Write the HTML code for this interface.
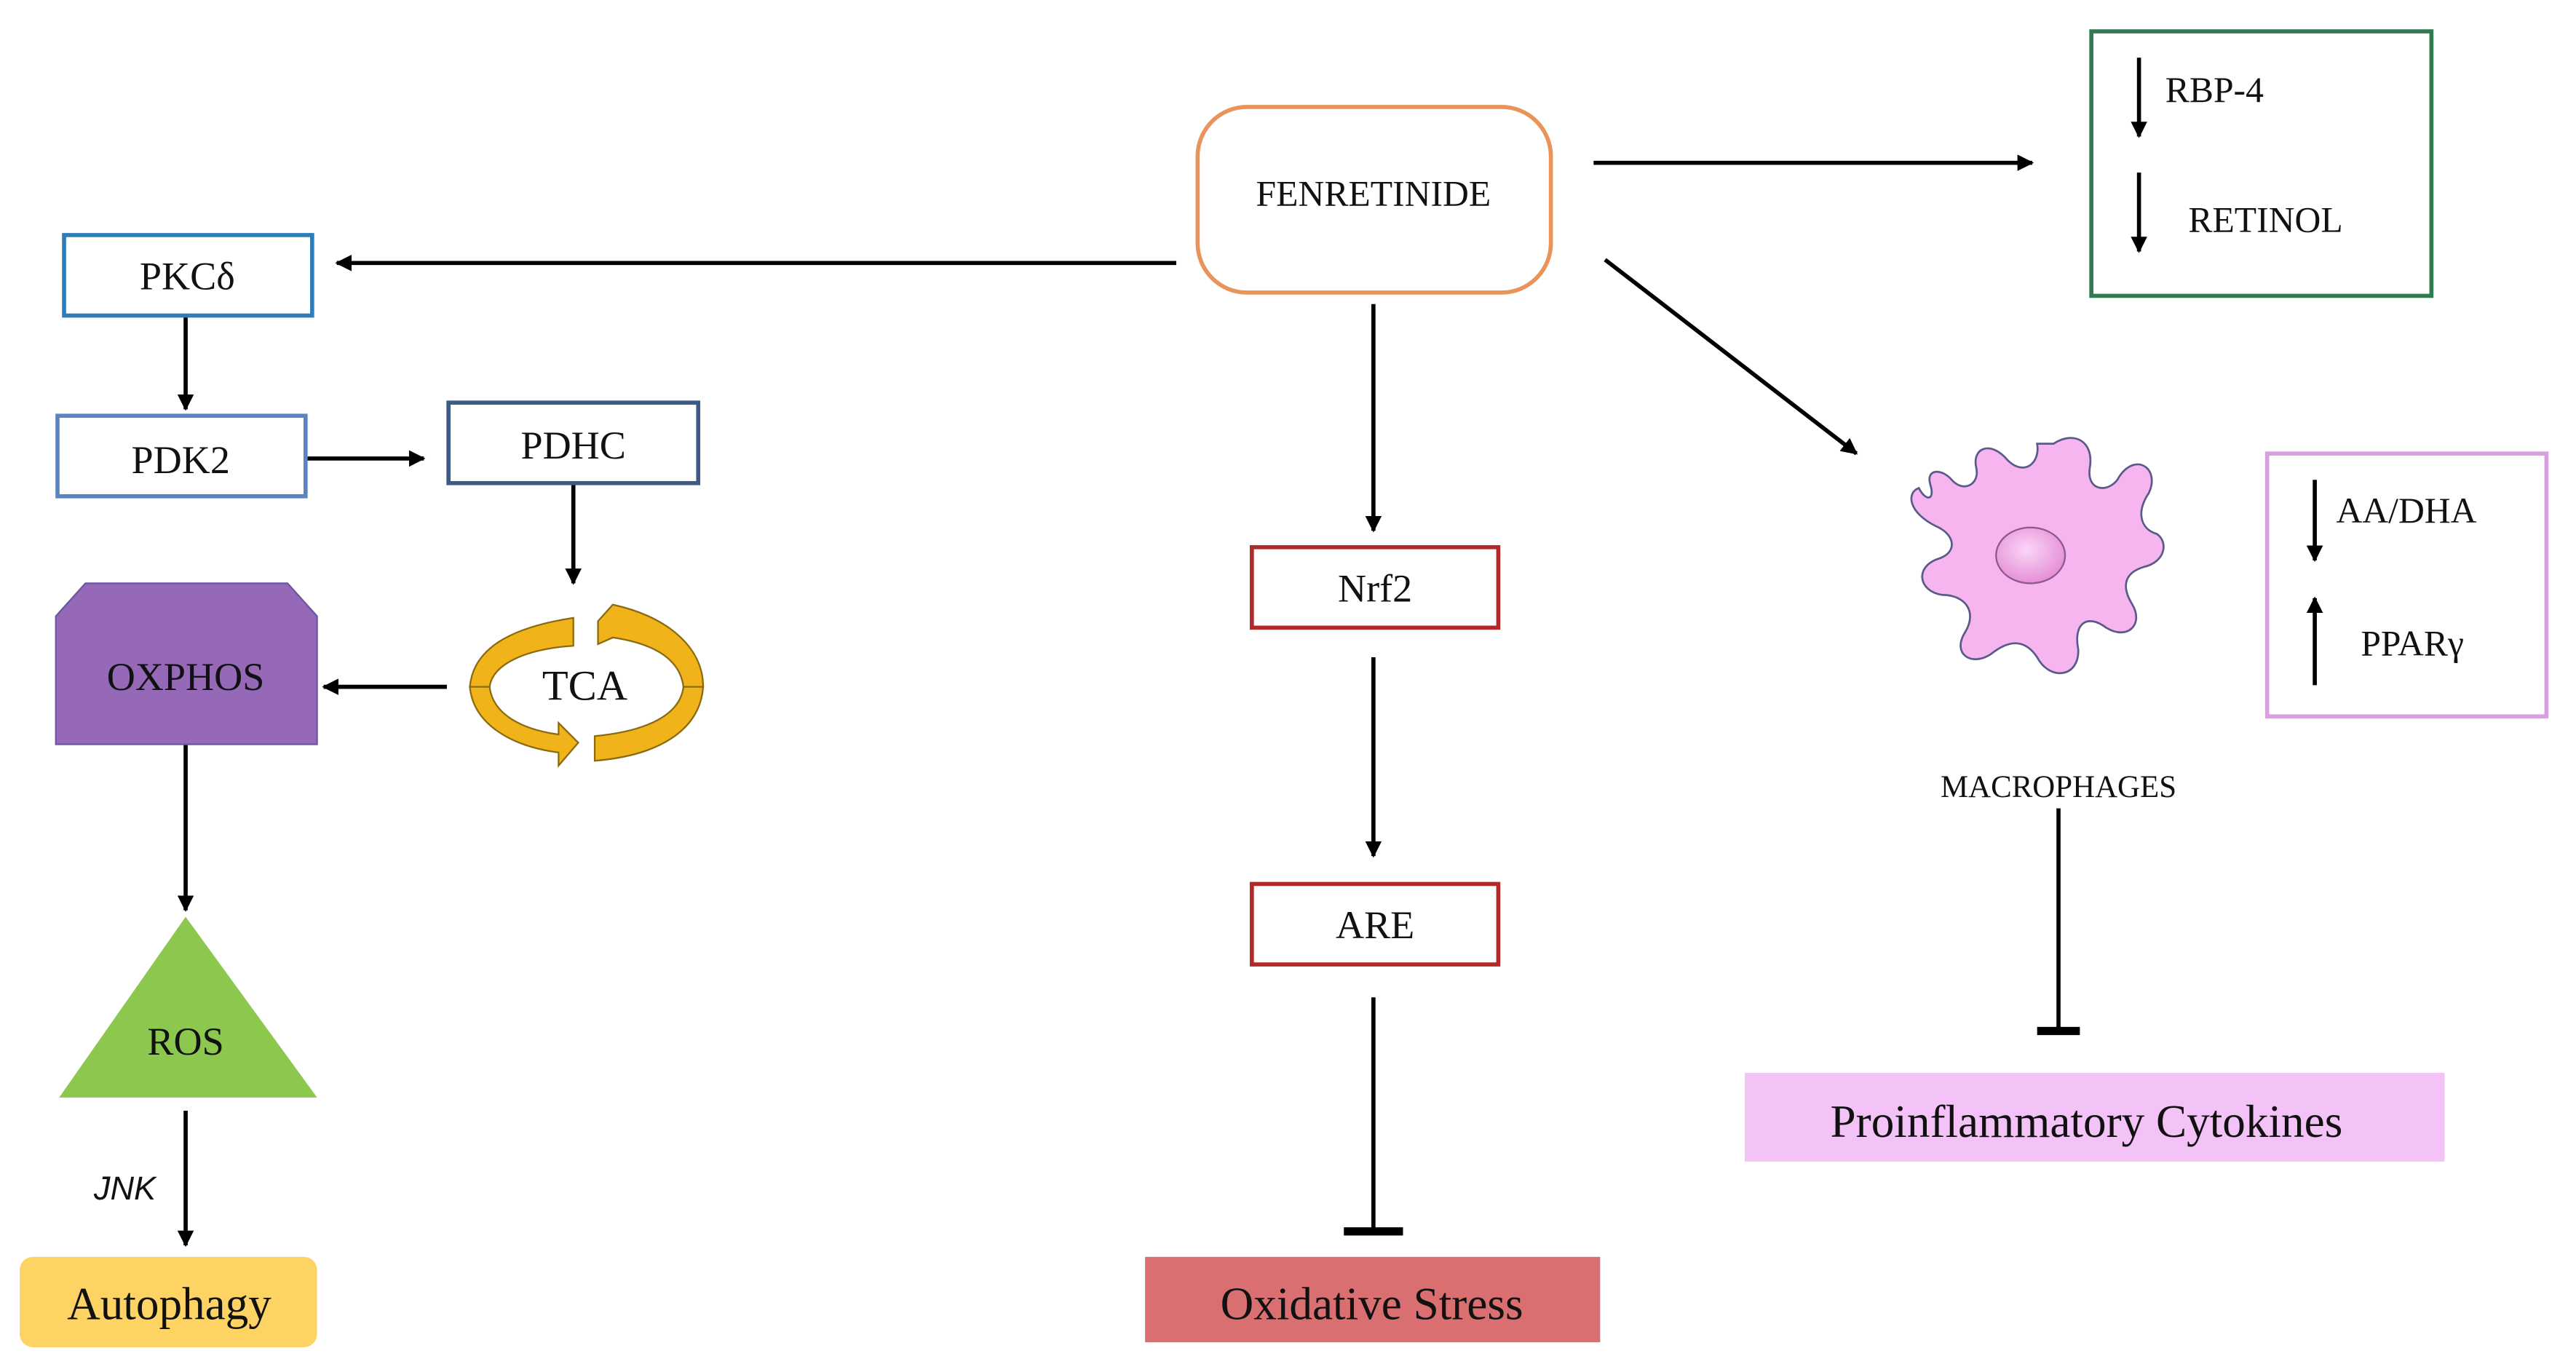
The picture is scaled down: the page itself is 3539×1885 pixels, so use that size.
<!DOCTYPE html>
<html><head><meta charset="utf-8"><style>
html,body{margin:0;padding:0;background:#fff;}
svg{display:block;}
text{font-family:"Liberation Serif",serif;fill:#111;}
</style></head><body>
<svg width="3539" height="1885" viewBox="0 0 1568 835" xmlns="http://www.w3.org/2000/svg">
<defs>
<marker id="a" viewBox="0 0 10 10" refX="9" refY="5" markerWidth="4" markerHeight="4" orient="auto"><path d="M0,0 L10,5 L0,10 z" fill="#000"/></marker>
<radialGradient id="nuc" cx="0.45" cy="0.4" r="0.6"><stop offset="0" stop-color="#fbd6f6"/><stop offset="1" stop-color="#e58ed8"/></radialGradient>
</defs>
<g stroke="#000" stroke-width="2.5" fill="none">
<line x1="970" y1="99" x2="1237" y2="99" marker-end="url(#a)"/>
<line x1="716" y1="160" x2="205" y2="160" marker-end="url(#a)"/>
<line x1="113" y1="192" x2="113" y2="249" marker-end="url(#a)"/>
<line x1="186" y1="279" x2="258" y2="279" marker-end="url(#a)"/>
<line x1="349" y1="294" x2="349" y2="355" marker-end="url(#a)"/>
<line x1="272" y1="418" x2="197" y2="418" marker-end="url(#a)"/>
<line x1="113" y1="453" x2="113" y2="554" marker-end="url(#a)"/>
<line x1="113" y1="676" x2="113" y2="758" marker-end="url(#a)"/>
<line x1="836" y1="185" x2="836" y2="323" marker-end="url(#a)"/>
<line x1="836" y1="400" x2="836" y2="521" marker-end="url(#a)"/>
<line x1="836" y1="607" x2="836" y2="750"/>
<line x1="977" y1="158" x2="1130" y2="276" marker-end="url(#a)"/>
<line x1="1253" y1="492" x2="1253" y2="628"/>
</g>
<rect x="818" y="747" width="36" height="5" fill="#000"/>
<rect x="1240" y="625" width="26" height="5" fill="#000"/>

<rect x="729" y="65" width="215" height="113" rx="30" fill="#fff" stroke="#e8945a" stroke-width="2.5"/>
<text x="836" y="125" font-size="22" text-anchor="middle">FENRETINIDE</text>

<rect x="1273" y="19" width="207" height="161" fill="#fff" stroke="#2f7a4f" stroke-width="2.5"/>
<text x="1318" y="62" font-size="22">RBP-4</text>
<text x="1332" y="141" font-size="22">RETINOL</text>

<rect x="39" y="143" width="151" height="49" fill="#fff" stroke="#2e7dbb" stroke-width="2.5"/>
<text x="114" y="176" font-size="24" text-anchor="middle">PKCδ</text>
<rect x="35" y="253" width="151" height="49" fill="#fff" stroke="#5a85c0" stroke-width="2.5"/>
<text x="110" y="288" font-size="24" text-anchor="middle">PDK2</text>
<rect x="273" y="245" width="152" height="49" fill="#fff" stroke="#3d5a86" stroke-width="2.5"/>
<text x="349" y="279" font-size="24" text-anchor="middle">PDHC</text>

<polygon points="52,355 175,355 193,375 193,453 34,453 34,375" fill="#9569b8" stroke="#6d55a0" stroke-width="1"/>
<text x="113" y="420" font-size="24" text-anchor="middle" fill="#1a1030">OXPHOS</text>

<g stroke="#8a6a10" stroke-width="1" fill="#f0b41a">
<path d="M349,376 C310,382 288,395 286,418 L298,418 C300,404 320,395 349,393 Z"/>
<path d="M364,378 L373,368 C405,375 428,393 428,418 L416,418 C414,402 400,392 373,388 L364,392 Z"/>
<path d="M286,418 C288,440 310,454 340,458 L340,466 L352,452 L340,440 L340,447 C318,444 300,435 298,418 Z"/>
<path d="M428,418 C426,445 400,460 362,463 L362,448 C394,445 414,435 416,418 Z"/>
</g>
<text x="356" y="426" font-size="26" text-anchor="middle">TCA</text>

<polygon points="113,558 193,668 36,668" fill="#8cc84e"/>
<text x="113" y="642" font-size="24" text-anchor="middle">ROS</text>
<text x="76" y="730" font-size="20" text-anchor="middle" font-style="italic" style="font-family:'Liberation Sans',sans-serif">JNK</text>
<rect x="12" y="765" width="181" height="55" rx="8" fill="#fdd463"/>
<text x="103" y="803" font-size="28" text-anchor="middle">Autophagy</text>

<rect x="762" y="333" width="150" height="49" fill="#fff" stroke="#b02a2a" stroke-width="2.5"/>
<text x="837" y="366" font-size="24" text-anchor="middle">Nrf2</text>
<rect x="762" y="538" width="150" height="49" fill="#fff" stroke="#b02a2a" stroke-width="2.5"/>
<text x="837" y="571" font-size="24" text-anchor="middle">ARE</text>
<rect x="697" y="765" width="277" height="52" fill="#d96f70"/>
<text x="835" y="803" font-size="28" text-anchor="middle">Oxidative Stress</text>

<path d="M1250,270 C1262,262 1275,268 1272,285 C1270,300 1285,300 1290,290 C1300,275 1315,285 1308,300 C1300,312 1303,322 1313,325 C1320,330 1318,342 1305,345 C1295,348 1290,355 1298,368 C1305,380 1295,390 1282,382 C1270,373 1262,380 1265,395 C1266,412 1248,415 1240,400 C1232,388 1222,390 1212,398 C1200,406 1188,398 1196,385 C1204,372 1196,362 1182,362 C1168,360 1165,345 1180,340 C1192,336 1190,325 1178,320 C1162,312 1160,300 1168,297 C1172,305 1178,305 1175,295 C1172,285 1182,285 1188,292 C1195,300 1205,295 1203,285 C1200,272 1212,268 1222,280 C1232,290 1242,282 1240,270 Z" fill="#f6b5ee" stroke="#5a5a8a" stroke-width="1.2"/>
<ellipse cx="1236" cy="338" rx="21" ry="17" fill="url(#nuc)" stroke="#8a5a8a" stroke-width="1"/>

<rect x="1380" y="276" width="170" height="160" fill="#fff" stroke="#d9a0e0" stroke-width="2.5"/>
<text x="1422" y="318" font-size="22">AA/DHA</text>
<text x="1437" y="399" font-size="22">PPARγ</text>
<text x="1253" y="485" font-size="19" text-anchor="middle">MACROPHAGES</text>
<rect x="1062" y="653" width="426" height="54" fill="#f3c2f6"/>
<text x="1270" y="692" font-size="28" text-anchor="middle">Proinflammatory Cytokines</text>

<g stroke="#000" stroke-width="2.5" fill="none">
<line x1="1302" y1="35" x2="1302" y2="83" marker-end="url(#a)"/>
<line x1="1302" y1="105" x2="1302" y2="153" marker-end="url(#a)"/>
<line x1="1409" y1="292" x2="1409" y2="341" marker-end="url(#a)"/>
<line x1="1409" y1="417" x2="1409" y2="364" marker-end="url(#a)"/>
</g>
</svg>
</body></html>
